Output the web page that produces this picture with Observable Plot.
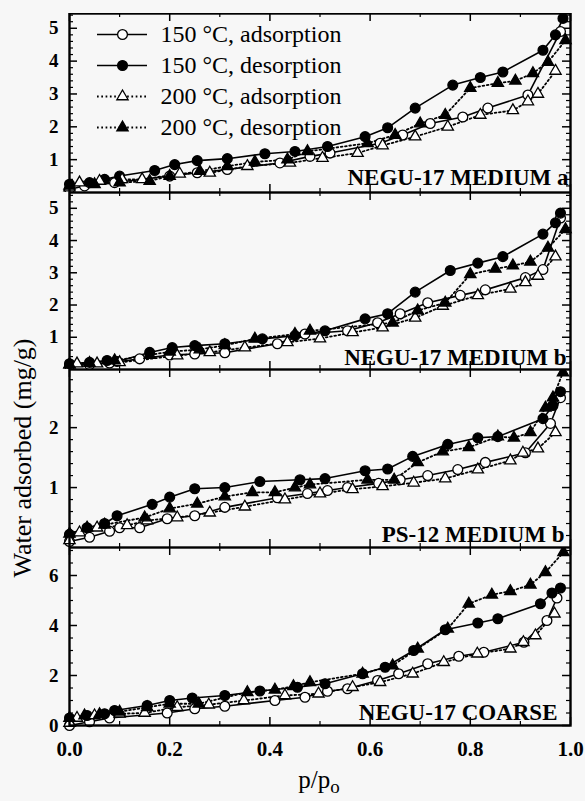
<!DOCTYPE html>
<html><head><meta charset="utf-8">
<script src="https://cdn.jsdelivr.net/npm/d3@7"></script>
<script src="https://cdn.jsdelivr.net/npm/@observablehq/plot@0.6"></script>
<style>
body{margin:0;background:#f7f7f7;}
#wrap{position:relative;width:585px;height:801px;overflow:hidden;font-family:"Liberation Serif","Times New Roman",serif;color:#000;}
.panel{position:absolute;left:0;}
.panel svg{background:transparent;}
.panel g[aria-label="y-axis tick label"] text,.panel g[aria-label="x-axis tick label"] text{font-weight:bold;}
.ytitle{position:absolute;left:23px;top:458px;transform:translate(-50%,-50%) rotate(-90deg);white-space:nowrap;font-size:26px;}
.xtitle{position:absolute;left:319px;top:766px;transform:translateX(-50%);font-size:25px;white-space:nowrap;}
.xtitle sub{font-size:19px;vertical-align:-5px;}
</style></head><body><div id="wrap"></div>
<script>
// ---------- data ----------
const seriesNames = ["150 °C, adsorption", "150 °C, desorption", "200 °C, adsorption", "200 °C, desorption"];
const panelLabels = ["NEGU-17 MEDIUM a", "NEGU-17 MEDIUM b", "PS-12 MEDIUM b", "NEGU-17 COARSE"];
const xMajorTicks = [0, 0.2, 0.4, 0.6, 0.8, 1.0];
const xMinorTicks = [0.1, 0.3, 0.5, 0.7, 0.9];

// Panel 1: NEGU-17 MEDIUM a
const p1Ads150 = [[0,0.1],[0.03,0.2],[0.09,0.3],[0.2,0.5],[0.255,0.6],[0.315,0.7],[0.42,0.9],[0.48,1.1],[0.52,1.2],[0.62,1.5],[0.665,1.75],[0.72,2.1],[0.785,2.3],[0.835,2.57],[0.915,2.97],[0.98,4.9]];
const p1Des150 = [[0,0.25],[0.04,0.3],[0.07,0.4],[0.10,0.5],[0.17,0.67],[0.21,0.85],[0.255,0.97],[0.315,1.03],[0.39,1.18],[0.45,1.25],[0.515,1.4],[0.59,1.7],[0.635,1.97],[0.69,2.57],[0.765,3.27],[0.82,3.5],[0.865,3.67],[0.945,4.33],[0.97,4.8],[0.985,5.3]];
const p1Ads200 = [[0,0.15],[0.02,0.3],[0.06,0.35],[0.105,0.4],[0.145,0.4],[0.22,0.57],[0.28,0.6],[0.355,0.8],[0.44,0.9],[0.505,1.05],[0.575,1.2],[0.625,1.43],[0.69,1.7],[0.755,2.0],[0.82,2.36],[0.885,2.5],[0.915,2.77],[0.935,3.0],[0.97,3.7]];
const p1Des200 = [[0,0.2],[0.05,0.25],[0.1,0.3],[0.16,0.35],[0.2,0.5],[0.26,0.65],[0.315,0.8],[0.37,0.93],[0.435,1.0],[0.475,1.25],[0.595,1.5],[0.65,1.75],[0.70,2.1],[0.75,2.36],[0.80,3.18],[0.855,3.33],[0.89,3.4],[0.925,3.63],[0.955,3.97],[0.99,4.63]];

// Panel 2: NEGU-17 MEDIUM b
const p2Ads150 = [[0,0.12],[0.04,0.15],[0.08,0.2],[0.14,0.33],[0.2,0.45],[0.25,0.48],[0.31,0.52],[0.415,0.8],[0.47,1.1],[0.555,1.2],[0.615,1.45],[0.66,1.73],[0.715,2.07],[0.78,2.3],[0.83,2.47],[0.91,2.85],[0.945,3.1],[0.98,4.7]];
const p2Des150 = [[0,0.18],[0.04,0.22],[0.075,0.28],[0.095,0.25],[0.16,0.53],[0.205,0.68],[0.25,0.74],[0.31,0.8],[0.385,0.95],[0.45,1.05],[0.51,1.2],[0.59,1.57],[0.635,1.73],[0.69,2.4],[0.76,3.07],[0.815,3.3],[0.865,3.5],[0.945,4.2],[0.97,4.55],[0.98,4.85]];
const p2Ads200 = [[0,0.15],[0.015,0.18],[0.055,0.18],[0.10,0.22],[0.215,0.43],[0.28,0.53],[0.35,0.68],[0.435,0.84],[0.50,0.96],[0.565,1.15],[0.625,1.3],[0.69,1.6],[0.745,1.97],[0.815,2.3],[0.88,2.5],[0.91,2.7],[0.935,2.9],[0.97,3.5]];
const p2Des200 = [[0,0.15],[0.04,0.2],[0.09,0.28],[0.16,0.45],[0.2,0.55],[0.26,0.62],[0.31,0.75],[0.37,0.95],[0.45,1.1],[0.48,1.2],[0.645,1.45],[0.695,1.83],[0.75,2.07],[0.80,2.95],[0.85,3.12],[0.885,3.22],[0.92,3.34],[0.955,3.77],[0.99,4.35]];

// Panel 3: PS-12 MEDIUM b
const p3Ads150 = [[0,0.1],[0.04,0.17],[0.08,0.27],[0.1,0.33],[0.14,0.33],[0.195,0.48],[0.25,0.53],[0.31,0.67],[0.415,0.83],[0.475,0.9],[0.515,0.95],[0.555,1.0],[0.617,1.07],[0.66,1.13],[0.715,1.2],[0.775,1.3],[0.83,1.42],[0.91,1.58],[0.96,2.07],[0.98,2.5]];
const p3Des150 = [[0,0.22],[0.035,0.33],[0.07,0.4],[0.095,0.53],[0.165,0.72],[0.2,0.84],[0.25,0.98],[0.31,1.0],[0.38,1.1],[0.46,1.13],[0.51,1.15],[0.59,1.28],[0.635,1.31],[0.685,1.52],[0.755,1.72],[0.815,1.83],[0.855,1.85],[0.945,2.15],[0.965,2.37],[0.98,2.6]];
const p3Ads200 = [[0,0.12],[0.02,0.25],[0.055,0.33],[0.115,0.37],[0.155,0.45],[0.215,0.5],[0.28,0.58],[0.35,0.68],[0.43,0.8],[0.5,0.9],[0.565,0.97],[0.625,1.02],[0.687,1.08],[0.75,1.15],[0.815,1.3],[0.88,1.45],[0.905,1.58],[0.935,1.65],[0.97,1.92]];
const p3Des200 = [[0,0.23],[0.035,0.33],[0.07,0.38],[0.15,0.5],[0.2,0.65],[0.255,0.73],[0.31,0.85],[0.365,0.92],[0.41,0.92],[0.45,1.0],[0.48,1.05],[0.595,1.13],[0.648,1.13],[0.695,1.42],[0.745,1.6],[0.797,1.67],[0.855,1.85],[0.887,1.83],[0.92,1.92],[0.95,2.33],[0.965,2.5],[0.985,2.92]];

// Panel 4: NEGU-17 COARSE
const p4Ads150 = [[0,0.0],[0.04,0.15],[0.08,0.3],[0.195,0.5],[0.25,0.67],[0.31,0.77],[0.41,1.0],[0.47,1.13],[0.515,1.37],[0.555,1.47],[0.615,1.8],[0.657,2.07],[0.715,2.47],[0.777,2.77],[0.827,2.93],[0.907,3.33],[0.953,4.2],[0.973,5.1]];
const p4Des150 = [[0,0.3],[0.035,0.4],[0.07,0.47],[0.09,0.6],[0.155,0.8],[0.2,1.0],[0.245,1.1],[0.31,1.2],[0.38,1.38],[0.455,1.53],[0.51,1.67],[0.585,2.07],[0.63,2.33],[0.687,3.0],[0.75,3.83],[0.815,4.1],[0.855,4.27],[0.94,4.87],[0.963,5.3],[0.98,5.5]];
const p4Ads200 = [[0,0.1],[0.015,0.3],[0.05,0.4],[0.1,0.47],[0.15,0.5],[0.215,0.73],[0.278,0.83],[0.348,1.0],[0.43,1.2],[0.497,1.27],[0.565,1.53],[0.62,1.73],[0.685,2.07],[0.747,2.53],[0.814,2.87],[0.88,3.07],[0.906,3.33],[0.93,3.6],[0.968,4.47]];
const p4Des200 = [[0,0.3],[0.03,0.4],[0.06,0.45],[0.1,0.55],[0.155,0.73],[0.2,0.87],[0.258,0.87],[0.355,1.33],[0.41,1.43],[0.447,1.57],[0.48,1.73],[0.585,2.07],[0.645,2.4],[0.695,3.07],[0.755,3.87],[0.797,4.87],[0.843,5.23],[0.88,5.37],[0.92,5.63],[0.95,6.13],[0.986,6.93]];

// y tick labels per panel
const p1YTicks = [1,2,3,4,5];
const p2YTicks = [1,2,3,4,5];
const p3YTicks = [1,2];
const p4YTicks = [0,2,4,6];

// ---------- layout ----------
const W = 585, ML = 69, MR = 15;
const innerW = W - ML - MR;
const wrap = document.getElementById("wrap");

const styles = {
  [seriesNames[0]]: {symbol: "circle", fill: "white", r: 4.9, dash: null},
  [seriesNames[1]]: {symbol: "circle", fill: "black", r: 4.9, dash: null},
  [seriesNames[2]]: {symbol: "triangle", fill: "white", r: 4.2, dash: "1.7,2.6"},
  [seriesNames[3]]: {symbol: "triangle", fill: "black", r: 4.2, dash: "1.7,2.6"}
};

function toRows(pairs, s) { return pairs.map(([x, y]) => ({x, y, s})); }

function seriesMarks(rowsBySeries) {
  const marks = [];
  for (const [s, rows] of rowsBySeries) {
    const st = styles[s];
    marks.push(Plot.line(rows, {x: "x", y: "y", stroke: "black", strokeWidth: st.dash ? 1.8 : 1.6, strokeDasharray: st.dash || undefined}));
  }
  for (const [s, rows] of rowsBySeries) {
    const st = styles[s];
    marks.push(Plot.dot(rows, {x: "x", y: "y", symbol: st.symbol, r: st.r, fill: st.fill, stroke: "black", strokeWidth: 1.3}));
  }
  return marks;
}

function panel(cfg) {
  const {sets, yDomain, yTicks, yMinor, label, top, innerH, bottom, labelDx, labelDy} = cfg;
  const rowsBySeries = sets.map((pairs, i) => [seriesNames[i], toRows(pairs, seriesNames[i])]);
  const marks = [
    Plot.tickX(xMajorTicks, {x: d => d, insetTop: innerH - 8, strokeWidth: 1.5}),
    Plot.tickX(xMinorTicks, {x: d => d, insetTop: innerH - 4, strokeWidth: 1.2}),
    Plot.tickX(xMajorTicks, {x: d => d, insetBottom: innerH - 8, strokeWidth: 1.5}),
    Plot.tickX(xMinorTicks, {x: d => d, insetBottom: innerH - 4, strokeWidth: 1.2}),
    Plot.tickY(yTicks, {y: d => d, insetRight: innerW - 8, strokeWidth: 1.5}),
    Plot.tickY(yMinor, {y: d => d, insetRight: innerW - 4, strokeWidth: 1.2}),
    Plot.tickY(yTicks, {y: d => d, insetLeft: innerW - 8, strokeWidth: 1.5}),
    Plot.tickY(yMinor, {y: d => d, insetLeft: innerW - 4, strokeWidth: 1.2}),
    Plot.axisY(yTicks, {tickSize: 0, tickPadding: 11, fontSize: 19, label: null, tickFormat: d3.format("d")}),
    ...seriesMarks(rowsBySeries),
    Plot.frame({stroke: "black", strokeWidth: 2.4}),
    Plot.text([label], {frameAnchor: "bottom-right", text: d => d, dx: labelDx, dy: labelDy, fontSize: 23, fontWeight: "bold", textAnchor: "end", lineAnchor: "bottom", fill: "black"})
  ];
  if (bottom > 0) {
    marks.push(Plot.axisX(xMajorTicks, {tickSize: 0, tickPadding: 16, fontSize: 21, label: null, tickFormat: d3.format(".1f")}));
  }
  const svg = Plot.plot({
    width: W, height: innerH + bottom,
    marginLeft: ML, marginRight: MR, marginTop: 0, marginBottom: bottom,
    style: {fontFamily: "'Liberation Serif', 'Times New Roman', serif", background: "transparent", color: "black"},
    x: {domain: [0, 1], axis: null},
    y: {domain: yDomain, axis: null},
    marks
  });
  const div = document.createElement("div");
  div.className = "panel";
  div.style.top = top + "px";
  div.appendChild(svg);
  wrap.appendChild(div);
}

panel({sets: [p1Ads150, p1Des150, p1Ads200, p1Des200], yDomain: [0, 5.45], yTicks: p1YTicks,
  yMinor: d3.range(0.2, 5.41, 0.2).filter(v => Math.abs(v - Math.round(v)) > 1e-6),
  label: panelLabels[0], top: 13, innerH: 179, bottom: 0, labelDx: -2, labelDy: -8});
panel({sets: [p2Ads150, p2Des150, p2Ads200, p2Des200], yDomain: [0, 5.49], yTicks: p2YTicks,
  yMinor: d3.range(0.2, 5.41, 0.2).filter(v => Math.abs(v - Math.round(v)) > 1e-6),
  label: panelLabels[1], top: 192, innerH: 177, bottom: 0, labelDx: -4, labelDy: -5});
panel({sets: [p3Ads150, p3Des150, p3Ads200, p3Des200], yDomain: [0, 2.97], yTicks: p3YTicks,
  yMinor: d3.range(0.2, 2.95, 0.2).filter(v => Math.abs(v - Math.round(v)) > 1e-6),
  label: panelLabels[2], top: 369, innerH: 178, bottom: 0, labelDx: -6, labelDy: -6});
panel({sets: [p4Ads150, p4Des150, p4Ads200, p4Des200], yDomain: [0, 7.12], yTicks: p4YTicks,
  yMinor: d3.range(0.5, 7.1, 0.5).filter(v => Math.abs(v / 2 - Math.round(v / 2)) > 1e-6),
  label: panelLabels[3], top: 547, innerH: 178, bottom: 45, labelDx: -13, labelDy: -6});

// legend (inside panel 1)
const legend = Plot.plot({
  width: 300, height: 130, marginLeft: 7, marginRight: 243, marginTop: 18, marginBottom: 18,
  style: {fontFamily: "'Liberation Serif', 'Times New Roman', serif", background: "transparent", color: "black"},
  x: {domain: [0, 1], axis: null},
  y: {type: "point", domain: seriesNames, padding: 0, axis: null},
  marks: [
    ...seriesNames.map(s => Plot.ruleY([s], {y: d => d, stroke: "black", strokeWidth: styles[s].dash ? 1.8 : 1.6, strokeDasharray: styles[s].dash || undefined})),
    ...seriesNames.map(s => Plot.dot([s], {x: () => 0.5, y: d => d, symbol: styles[s].symbol, r: styles[s].r, fill: styles[s].fill, stroke: "black", strokeWidth: 1.3})),
    Plot.text(seriesNames, {x: () => 1, y: d => d, text: d => d, dx: 13, textAnchor: "start", fontSize: 24, fill: "black"})
  ]
});
const ld = document.createElement("div");
ld.className = "panel";
ld.style.left = "90px";
ld.style.top = "15px";
ld.appendChild(legend);
wrap.appendChild(ld);

// axis titles
const yt = document.createElement("div");
yt.className = "ytitle";
yt.textContent = "Water adsorbed (mg/g)";
wrap.appendChild(yt);
const xt = document.createElement("div");
xt.className = "xtitle";
xt.innerHTML = "p/p<sub>o</sub>";
wrap.appendChild(xt);
</script></body></html>
